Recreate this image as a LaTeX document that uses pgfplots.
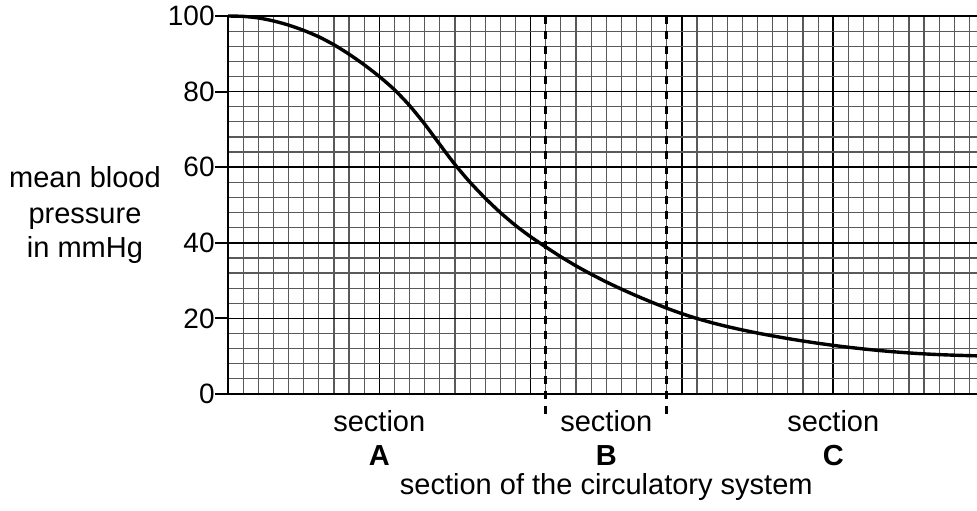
\documentclass[border=0pt]{standalone}
\usepackage{fontspec}
\setmainfont{Liberation Sans}
\usepackage{pgfplots}
\pgfplotsset{compat=1.18}
\begin{document}
\begin{tikzpicture}[font=\fontsize{14.5}{17}\selectfont]
\begin{axis}[
  scale only axis, width=374.5pt, height=189pt,
  xmin=0, xmax=49.5, ymin=0, ymax=100,
  axis x line*=bottom, axis y line*=left,
  axis line style={line width=1.2pt, line cap=rect},
  xtick={0,10,20,30,40}, xticklabels={},
  ytick={0,20,40,60,80,100},
  minor xtick={0,1,...,49},
  minor ytick={0,4,...,100},
  grid=both,
  major grid style={black, line width=0.8pt},
  minor grid style={black!65, line width=0.6pt},
  xtick style={draw=none},
  ytick style={black, line width=1pt},
  tick align=outside, major tick length=6.5pt, minor tick length=0pt,
  /pgf/number format/assume math mode=true,
  yticklabel style={font=\fontsize{14}{17}\selectfont, inner xsep=0pt},
  clip=false,
]
\addplot[black, line width=1.7pt, smooth, tension=0.4] coordinates {
(0,100) (1,99.9) (2,99.5) (3,98.7) (4,97.6) (5,96.2) (6,94.5) (7,92.4)
(8,89.9) (9,87.1) (10,84.0) (11,80.5) (12,76.3) (13,71.4) (14,66.0) (15,60.7)
(16,56.0) (17,51.8) (18,48.0) (19,44.6) (20,41.6) (21,38.9) (22,36.3) (23,33.9)
(24,31.7) (25,29.65) (26,27.75) (27,25.97) (28,24.3) (29,22.7) (30,21.25)
(31,19.97) (32,18.84) (33,17.84) (34,16.94) (35,16.12) (36,15.37) (37,14.67)
(38,14.02) (39,13.42) (40,12.87) (41,12.37) (42,11.92) (43,11.52) (44,11.17)
(45,10.87) (46,10.62) (47,10.42) (48,10.27) (49,10.15) (49.5,10.1)
};
\addplot[black, line width=1.5pt, dash pattern=on 4pt off 3.5pt] coordinates {(21,100) (21,-6.4)};
\addplot[black, line width=1.5pt, dash pattern=on 4pt off 3.5pt] coordinates {(29,100) (29,-6.4)};
\node[anchor=base, yshift=-18.5pt] at (axis cs:10,0) {section};
\node[anchor=base, yshift=-18.5pt] at (axis cs:25,0) {section};
\node[anchor=base, yshift=-18.5pt] at (axis cs:40,0) {section};
\node[anchor=base, yshift=-35.5pt] at (axis cs:10,0) {\textbf{A}};
\node[anchor=base, yshift=-35.5pt] at (axis cs:25,0) {\textbf{B}};
\node[anchor=base, yshift=-35.5pt] at (axis cs:40,0) {\textbf{C}};
\node[anchor=base, yshift=-50pt] at (axis cs:25,0) {section of the circulatory system};
\node[anchor=base, xshift=-71.5pt] at (axis cs:0,54.5) {mean blood};
\node[anchor=base, xshift=-71.5pt] at (axis cs:0,45.2) {pressure};
\node[anchor=base, xshift=-71.5pt] at (axis cs:0,36.2) {in mmHg};
\end{axis}
\pgfresetboundingbox
\path[use as bounding box] ([xshift=-114pt,yshift=-58pt]current axis.south west) rectangle ([yshift=8pt]current axis.north east);
\end{tikzpicture}
\end{document}
